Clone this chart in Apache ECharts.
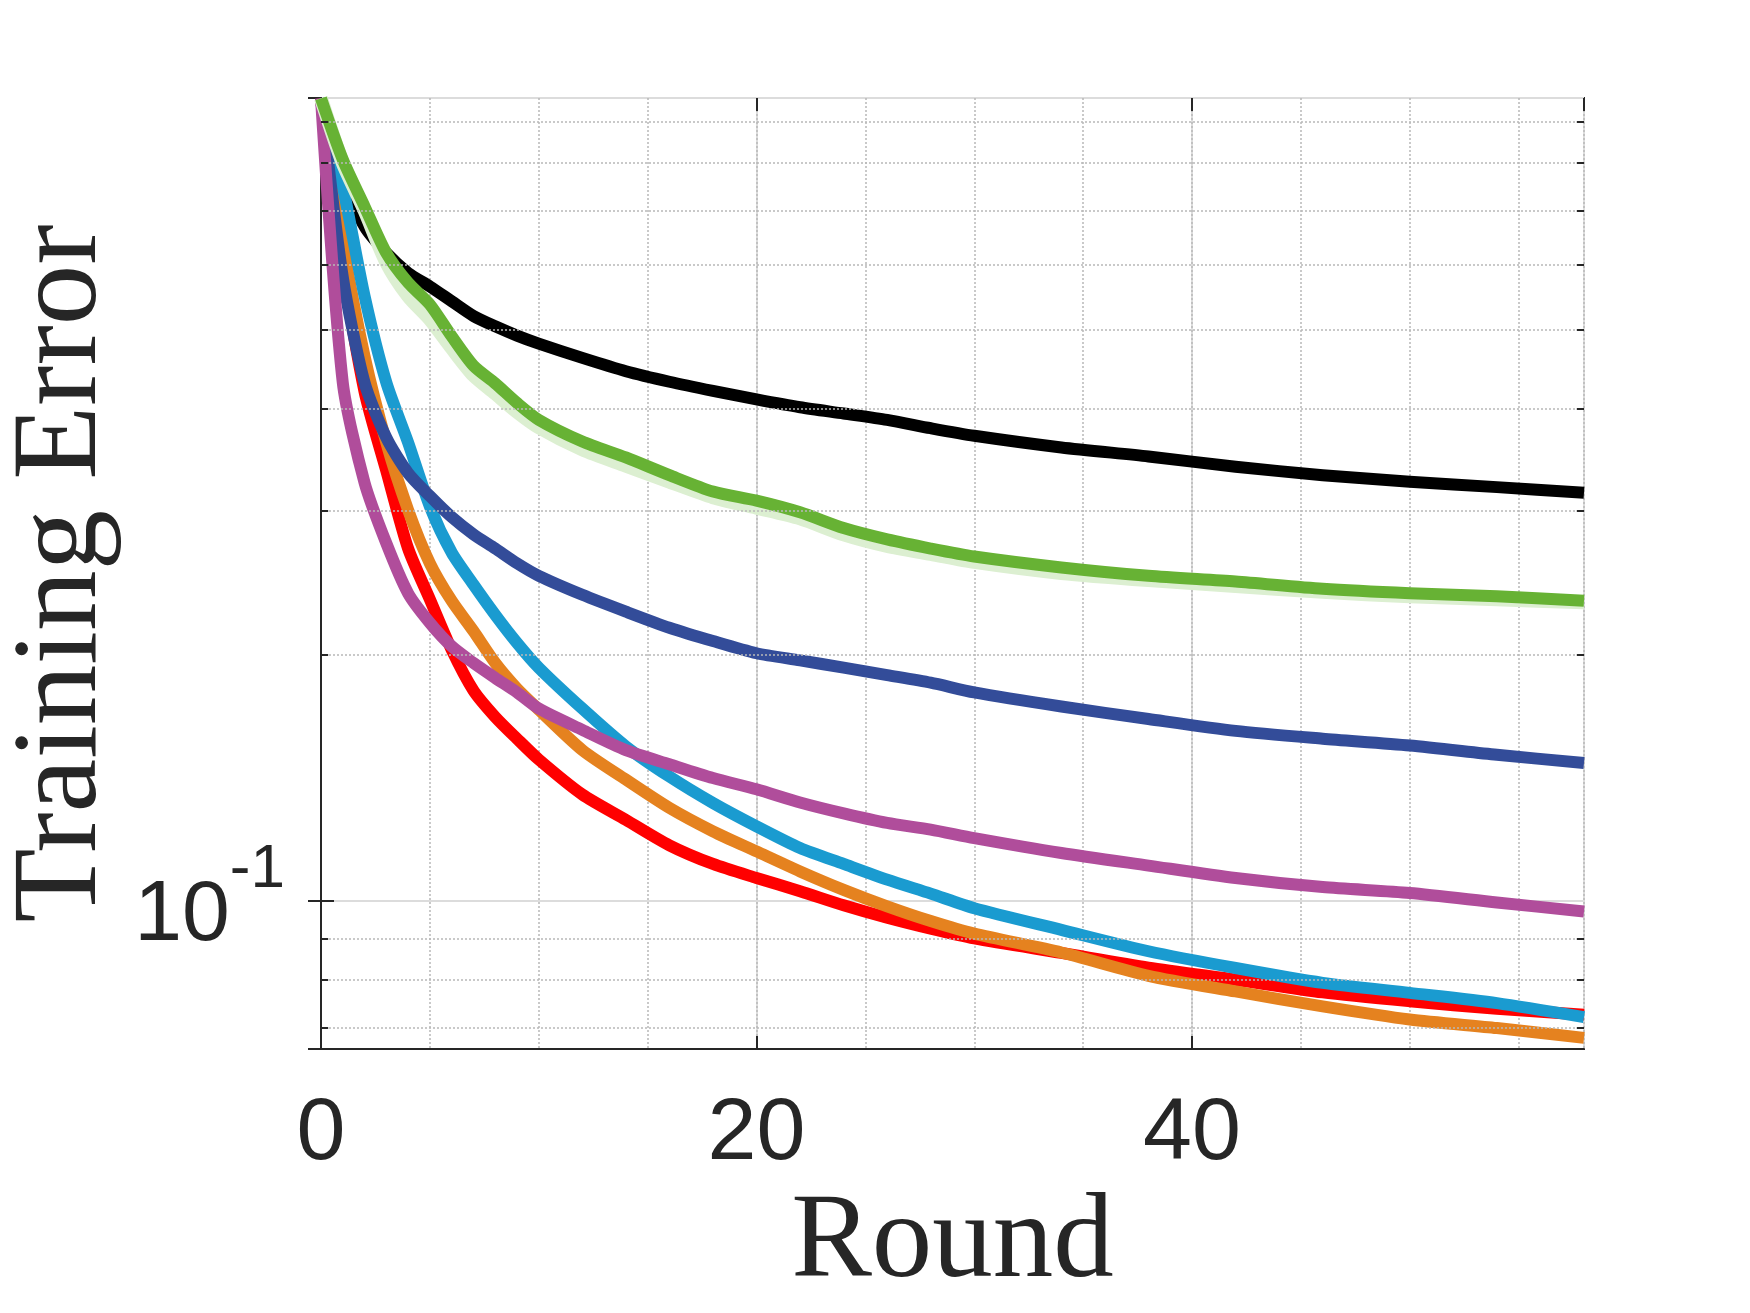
<!DOCTYPE html>
<html>
<head>
<meta charset="utf-8">
<title>Training Error</title>
<script src="https://cdn.jsdelivr.net/npm/echarts@6/dist/echarts.min.js"></script>
<style>
  html, body { margin: 0; padding: 0; background: #fff; }
  #chart { width: 1750px; height: 1313px; }
</style>
</head>
<body>
<div id="chart"></div>
<script>
const rounds = [0, 1, 2, 3, 4, 5, 6, 7, 8, 9, 10, 12, 14, 16, 18, 20, 22, 24, 26, 28, 30, 34, 38, 42, 46, 50, 54, 58];

const errBlack = [0.96, 0.767, 0.669, 0.621, 0.587, 0.565, 0.542, 0.520, 0.505, 0.492, 0.481, 0.462, 0.445, 0.432, 0.421, 0.411, 0.402, 0.395, 0.388, 0.379, 0.371, 0.359, 0.350, 0.340, 0.332, 0.326, 0.321, 0.316];
const errGreen = [0.96, 0.808, 0.708, 0.621, 0.571, 0.537, 0.491, 0.452, 0.430, 0.407, 0.388, 0.365, 0.349, 0.332, 0.317, 0.309, 0.299, 0.286, 0.277, 0.270, 0.264, 0.256, 0.250, 0.246, 0.241, 0.238, 0.236, 0.233];
const errGreenBand = [0.96, 0.80, 0.70, 0.605, 0.550, 0.515, 0.475, 0.440, 0.418, 0.397, 0.380, 0.357, 0.341, 0.326, 0.312, 0.303, 0.294, 0.281, 0.272, 0.266, 0.260, 0.252, 0.247, 0.243, 0.239, 0.236, 0.234, 0.232];
const errBlue = [0.96, 0.58, 0.431, 0.369, 0.334, 0.313, 0.295, 0.281, 0.270, 0.259, 0.250, 0.237, 0.226, 0.216, 0.208, 0.201, 0.197, 0.193, 0.189, 0.185, 0.180, 0.173, 0.167, 0.1615, 0.158, 0.155, 0.151, 0.1475];
const errMagenta = [0.96, 0.431, 0.325, 0.274, 0.238, 0.219, 0.205, 0.1956, 0.1875, 0.180, 0.172, 0.162, 0.153, 0.147, 0.1414, 0.137, 0.132, 0.128, 0.1246, 0.1223, 0.1194, 0.1145, 0.1105, 0.1067, 0.104, 0.1023, 0.0996, 0.0971];
const errRed = [0.96, 0.60, 0.42, 0.336, 0.270, 0.234, 0.203, 0.181, 0.168, 0.158, 0.149, 0.135, 0.1257, 0.117, 0.111, 0.1067, 0.1028, 0.0988, 0.0954, 0.0925, 0.0900, 0.0864, 0.0829, 0.0801, 0.0773, 0.0754, 0.0738, 0.0726];
const errOrange = [0.96, 0.639, 0.464, 0.364, 0.301, 0.259, 0.233, 0.214, 0.1956, 0.182, 0.1715, 0.153, 0.1408, 0.130, 0.1217, 0.115, 0.1087, 0.1032, 0.0985, 0.0945, 0.0912, 0.0865, 0.0810, 0.0775, 0.0743, 0.0716, 0.0699, 0.0680];
const errCyan = [0.96, 0.749, 0.550, 0.431, 0.364, 0.304, 0.267, 0.244, 0.224, 0.207, 0.193, 0.172, 0.1546, 0.142, 0.1318, 0.1234, 0.1161, 0.111, 0.1062, 0.1021, 0.0980, 0.0922, 0.0868, 0.0828, 0.0794, 0.0772, 0.0750, 0.0721];

// axis ranges and ticks
const xRange = [0, 58];
const xMajorStep = 20;
const xMinorStep = 5;
const yRange = [0.0659, 0.961];
const yMinorTicks = [0.07, 0.08, 0.09, 0.2, 0.3, 0.4, 0.5, 0.6, 0.7, 0.8, 0.9];

const axisColor = '#262626';
const sansFont = '"Liberation Sans", Arial, sans-serif';
const serifFont = '"Liberation Serif", "DejaVu Serif", serif';
const minorGridStyle = { color: '#b8b8b8', type: [2, 2], width: 1.5 };

function curve(name, values, color, width) {
  return {
    name: name,
    type: 'line',
    data: rounds.map((r, i) => [r, values[i]]),
    symbol: 'none',
    smooth: 0.25,
    silent: true,
    lineStyle: { color: color, width: width, cap: 'butt', join: 'round' }
  };
}

// minor y grid lines plus the short inward minor ticks on left and right
const minorTickLen = 0.33;
const minorLines = yMinorTicks.map(v => ({ yAxis: v }));
yMinorTicks.forEach(v => {
  const tickStyle = { color: axisColor, type: 'solid', width: 2 };
  minorLines.push([{ coord: [xRange[0], v], lineStyle: tickStyle }, { coord: [xRange[0] + minorTickLen, v] }]);
  minorLines.push([{ coord: [xRange[1] - minorTickLen, v], lineStyle: tickStyle }, { coord: [xRange[1], v] }]);
});

const chart = echarts.init(document.getElementById('chart'));

chart.setOption({
  animation: false,
  backgroundColor: '#ffffff',
  grid: {
    left: 321, top: 98, right: 166, bottom: 264,
    containLabel: false, outerBoundsMode: 'none',
    show: true, borderColor: axisColor, borderWidth: 2, backgroundColor: 'transparent'
  },
  xAxis: [
    {
      type: 'value', min: xRange[0], max: xRange[1], interval: xMajorStep, position: 'bottom',
      axisLine: { show: true, onZero: false, lineStyle: { color: axisColor, width: 2 } },
      axisTick: { show: true, inside: true, length: 13, lineStyle: { color: axisColor, width: 2 } },
      axisLabel: { show: true, margin: 42, fontSize: 88, fontFamily: sansFont, color: axisColor, showMaxLabel: false },
      splitLine: { show: true, lineStyle: { color: '#dcdcdc', width: 2 } },
      name: 'Round', nameLocation: 'middle', nameGap: 134,
      nameTextStyle: { fontFamily: serifFont, fontSize: 121, color: axisColor }
    },
    {
      type: 'value', min: xRange[0], max: xRange[1], interval: xMajorStep, position: 'top',
      axisLine: { show: false, onZero: false },
      axisTick: { show: true, inside: true, length: 13, lineStyle: { color: axisColor, width: 2 } },
      axisLabel: { show: false },
      splitLine: { show: false }
    },
    {
      type: 'value', min: xRange[0], max: xRange[1], interval: xMinorStep, position: 'bottom',
      axisLine: { show: false, onZero: false },
      axisTick: { show: false },
      axisLabel: { show: false },
      splitLine: { show: true, lineStyle: minorGridStyle }
    }
  ],
  yAxis: [
    {
      type: 'log', logBase: 10, min: yRange[0], max: yRange[1], position: 'left',
      axisLine: { show: true, lineStyle: { color: axisColor, width: 2 } },
      axisTick: { show: true, inside: true, length: 13, lineStyle: { color: axisColor, width: 2 } },
      axisLabel: {
        show: true, margin: 36, showMinLabel: false, showMaxLabel: false,
        formatter: v => (Math.abs(Math.log10(v) + 1) < 1e-6 ? '{b|10}{s|-1}' : ''),
        rich: {
          b: { fontSize: 86, fontFamily: sansFont, color: axisColor, lineHeight: 140, padding: [30, 0, 0, 0] },
          s: { fontSize: 62, fontFamily: sansFont, color: axisColor, lineHeight: 140, padding: [0, 0, 62, 0] }
        }
      },
      splitLine: { show: true, lineStyle: { color: '#dcdcdc', width: 2 } },
      name: 'Training Error', nameLocation: 'middle', nameRotate: 90, nameGap: 196,
      nameTextStyle: { fontFamily: serifFont, fontSize: 121, color: axisColor }
    },
    {
      type: 'log', logBase: 10, min: yRange[0], max: yRange[1], position: 'right',
      axisLine: { show: true, lineStyle: { color: axisColor, width: 2 } },
      axisTick: { show: true, inside: true, length: 13, lineStyle: { color: axisColor, width: 2 } },
      axisLabel: { show: false },
      splitLine: { show: false }
    }
  ],
  series: [
    {
      name: 'minor grid', type: 'line', data: [], z: 1, silent: true,
      markLine: {
        silent: true, animation: false, symbol: 'none',
        label: { show: false },
        lineStyle: minorGridStyle,
        data: minorLines
      }
    },
    curve('black', errBlack, '#000000', 12),
    curve('red', errRed, '#ff0000', 12),
    curve('orange', errOrange, '#e5821f', 12),
    curve('cyan', errCyan, '#1a9bd0', 12),
    curve('blue', errBlue, '#334c99', 12),
    curve('magenta', errMagenta, '#b04d9b', 12),
    curve('green band', errGreenBand, '#dcefd1', 14),
    curve('green', errGreen, '#67b234', 12)
  ]
});
</script>
</body>
</html>
